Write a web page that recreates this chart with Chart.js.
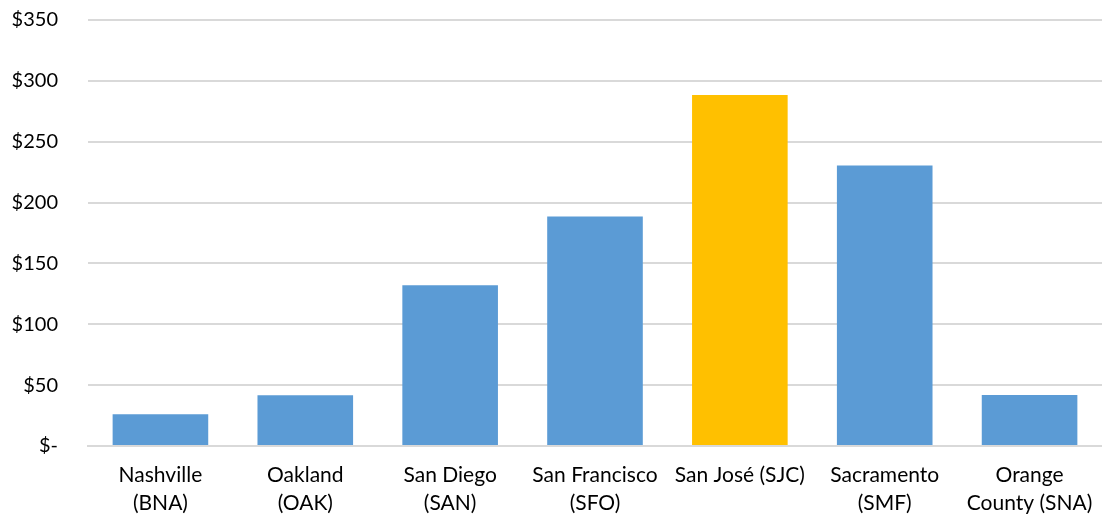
<!DOCTYPE html>
<html>
<head>
<meta charset="utf-8">
<script src="https://cdn.jsdelivr.net/npm/chart.js@4/dist/chart.umd.min.js"></script>
<style>
  html, body { margin: 0; padding: 0; background: #fff; }
  #wrap { width: 1102px; height: 518px; position: relative; }
</style>
</head>
<body>
<div id="wrap"><canvas id="c"></canvas></div>
<script>
// Airports and average cost per airport
const airports = [
  ["Nashville", "(BNA)"],
  ["Oakland", "(OAK)"],
  ["San Diego", "(SAN)"],
  ["San Francisco", "(SFO)"],
  "San José (SJC)",
  ["Sacramento", "(SMF)"],
  ["Orange", "County (SNA)"]
];
const costs = [26, 41.6, 132, 188.6, 288.3, 230.5, 42];
const barColors = ["#5b9bd5", "#5b9bd5", "#5b9bd5", "#5b9bd5", "#ffc000", "#5b9bd5", "#5b9bd5"];
const yMax = 350;
const yStep = 50;

const fontFamily = "Lato, 'Open Sans', sans-serif";

new Chart(document.getElementById("c"), {
  type: "bar",
  data: {
    labels: airports,
    datasets: [{
      data: costs,
      backgroundColor: barColors,
      borderWidth: 0,
      categoryPercentage: 1,
      barPercentage: 0.66
    }]
  },
  options: {
    responsive: true,
    maintainAspectRatio: false,
    animation: false,
    layout: { padding: { top: 20, right: 0, bottom: 0, left: 0 } },
    plugins: {
      legend: { display: false },
      tooltip: { enabled: false }
    },
    scales: {
      x: {
        grid: { display: false },
        border: { display: true, color: "#d9d9d9", width: 2 },
        ticks: {
          color: "#000",
          font: { family: fontFamily, size: 21, lineHeight: 1.3 },
          padding: 8,
          maxRotation: 0,
          autoSkip: false
        },
        afterFit: s => { s.height = 72; s.paddingLeft = 0; s.paddingRight = 0; }
      },
      y: {
        min: 0,
        max: yMax,
        grid: { color: "#d9d9d9", lineWidth: 2, drawTicks: false },
        border: { display: false },
        ticks: {
          stepSize: yStep,
          color: "#000",
          font: { family: fontFamily, size: 20 },
          padding: 30,
          callback: v => v === 0 ? "$-" : "$" + v
        },
        afterFit: s => { s.width = 88; s.paddingTop = 0; s.paddingBottom = 0; }
      }
    }
  }
});
</script>
</body>
</html>
